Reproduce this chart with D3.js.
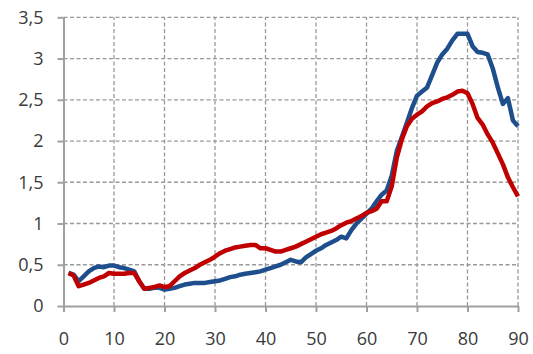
<!DOCTYPE html>
<html>
<head>
<meta charset="utf-8">
<script src="https://cdn.jsdelivr.net/npm/d3@7"></script>
<style>
  html, body { margin: 0; padding: 0; background: #fff; }
  svg { display: block; font-family: 'Open Sans', sans-serif; }
</style>
</head>
<body>
<div class="chart"></div>
<script>
'use strict'
// ages 1..90
const ages = d3.range(1, 91)
const blueValues = [
  0.40, 0.38, 0.30, 0.36, 0.42, 0.46, 0.48, 0.47, 0.49, 0.49,
  0.47, 0.46, 0.44, 0.42, 0.30, 0.21, 0.21, 0.22, 0.22, 0.20,
  0.21, 0.22, 0.24, 0.26, 0.27, 0.28, 0.28, 0.28, 0.29, 0.30,
  0.31, 0.33, 0.35, 0.36, 0.38, 0.39, 0.40, 0.41, 0.42, 0.44,
  0.46, 0.48, 0.50, 0.53, 0.56, 0.54, 0.53, 0.59, 0.63, 0.67,
  0.70, 0.74, 0.77, 0.80, 0.84, 0.82, 0.92, 1.00, 1.06, 1.12,
  1.18, 1.27, 1.35, 1.40, 1.58, 1.88, 2.05, 2.22, 2.40, 2.55,
  2.60, 2.65, 2.80, 2.95, 3.05, 3.12, 3.22, 3.30, 3.30, 3.30,
  3.15, 3.08, 3.07, 3.05, 2.88, 2.65, 2.45, 2.52, 2.25, 2.18
]
const redValues = [
  0.40, 0.37, 0.24, 0.26, 0.28, 0.31, 0.34, 0.36, 0.40, 0.39,
  0.39, 0.39, 0.40, 0.40, 0.30, 0.21, 0.22, 0.23, 0.25, 0.23,
  0.24, 0.30, 0.36, 0.40, 0.43, 0.46, 0.50, 0.53, 0.56, 0.60,
  0.64, 0.67, 0.69, 0.71, 0.72, 0.73, 0.74, 0.74, 0.70, 0.70,
  0.68, 0.66, 0.66, 0.68, 0.70, 0.72, 0.75, 0.78, 0.81, 0.84,
  0.87, 0.89, 0.91, 0.94, 0.98, 1.01, 1.03, 1.06, 1.09, 1.13,
  1.15, 1.18, 1.27, 1.27, 1.45, 1.80, 2.02, 2.18, 2.27, 2.32,
  2.36, 2.42, 2.46, 2.48, 2.51, 2.53, 2.56, 2.60, 2.61, 2.58,
  2.45, 2.28, 2.20, 2.08, 1.98, 1.85, 1.72, 1.56, 1.44, 1.33
]
const xTicks = d3.range(0, 91, 10)
const yTicks = d3.range(0, 3.51, 0.5)

const width = 533
const height = 354
const margin = { top: 17.3, right: 15, bottom: 48, left: 63.5 }

const x = d3.scaleLinear().domain([0, 90]).range([margin.left, width - margin.right])
const y = d3.scaleLinear().domain([0, 3.5]).range([height - margin.bottom, margin.top])

const fmt = function (d) { return String(d).replace('.', ',') }

const svg = d3.select('.chart').append('svg')
  .attr('width', width)
  .attr('height', height)

// grid
const grid = svg.append('g')
  .attr('stroke', '#999')
  .attr('stroke-width', 1.3)
  .attr('stroke-dasharray', '4,2.5')
grid.selectAll('.gx')
  .data(xTicks.filter(function (d) { return d > 0 }))
  .enter().append('line')
  .attr('x1', function (d) { return x(d) })
  .attr('x2', function (d) { return x(d) })
  .attr('y1', y(0))
  .attr('y2', y(3.5))
grid.selectAll('.gy')
  .data(yTicks.filter(function (d) { return d > 0 }))
  .enter().append('line')
  .attr('x1', x(0))
  .attr('x2', x(90))
  .attr('y1', function (d) { return y(d) })
  .attr('y2', function (d) { return y(d) })

// axes
const xAxis = svg.append('g')
  .attr('transform', 'translate(0,' + y(0) + ')')
  .call(d3.axisBottom(x).tickValues(xTicks).tickSize(6).tickPadding(20).tickFormat(fmt).tickSizeOuter(0))
const yAxis = svg.append('g')
  .attr('transform', 'translate(' + x(0) + ',0)')
  .call(d3.axisLeft(y).tickValues(yTicks).tickSize(6).tickPadding(14).tickFormat(fmt).tickSizeOuter(0))

;[xAxis, yAxis].forEach(function (a) {
  a.select('.domain').attr('stroke', '#a0a0a0').attr('stroke-width', 2)
  a.selectAll('.tick line').attr('stroke', '#a0a0a0').attr('stroke-width', 2)
  a.selectAll('.tick text')
    .attr('fill', '#3a3a3a')
    .style('font-size', '18px')
    .style('font-family', "'Open Sans', sans-serif")
})

// lines
const line = d3.line()
  .x(function (d) { return x(d[0]) })
  .y(function (d) { return y(d[1]) })

const series = [
  { values: blueValues, color: '#1f4e8c' },
  { values: redValues, color: '#c00000' }
]
svg.append('g').selectAll('path')
  .data(series)
  .enter().append('path')
  .attr('fill', 'none')
  .attr('stroke', function (d) { return d.color })
  .attr('stroke-width', 4.5)
  .attr('stroke-linejoin', 'round')
  .attr('stroke-linecap', 'butt')
  .attr('d', function (d) { return line(d3.zip(ages, d.values)) })
</script>
</body>
</html>
